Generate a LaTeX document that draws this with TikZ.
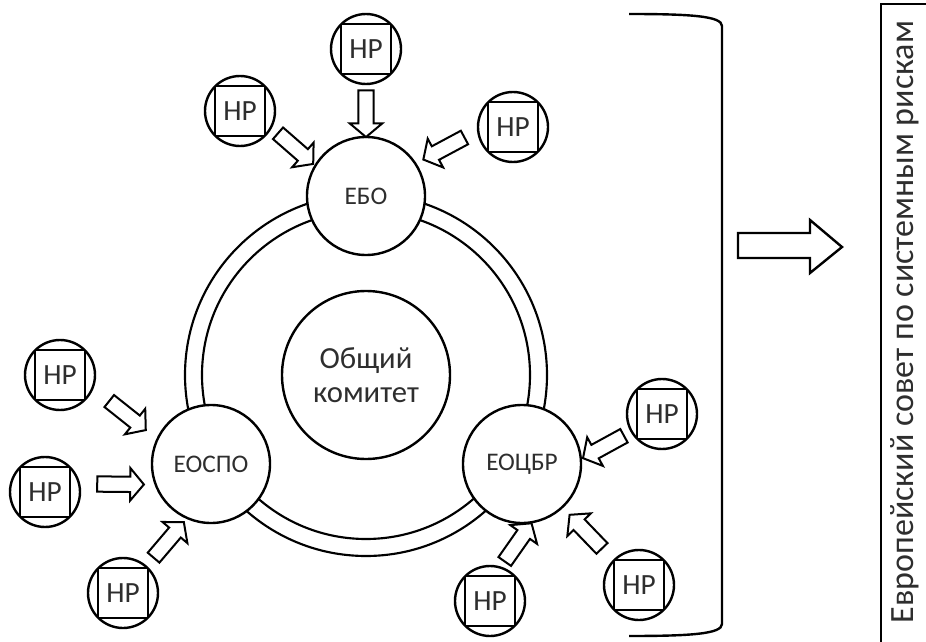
\documentclass[tikz,border=0pt]{standalone}
\usepackage{fontspec}
\setmainfont{Carlito}
\usetikzlibrary{shapes.arrows}
\begin{document}
\begin{tikzpicture}[x=0.75pt,y=-0.75pt,line width=1.8pt,
  every node/.style={text=black!82},
  hrnode/.style={circle,draw,fill=white,minimum size=52.5pt,inner sep=0pt,
    font=\fontsize{22}{26}\selectfont,
    path picture={\draw[line width=1.8pt] ([shift={(-18.75pt,-18.75pt)}]path picture bounding box.center) rectangle ++(37.5pt,37.5pt);}},
  agency/.style={circle,draw,fill=white,minimum size=88.5pt,inner sep=0pt,font=\fontsize{19}{22}\selectfont},
  blk/.style={single arrow,draw,fill=white,minimum height=35pt,minimum width=0pt,
    inner sep=0pt,inner ysep=5pt,single arrow head extend=6.5pt,
    single arrow tip angle=100,line width=1.5pt,sloped,allow upside down,midway},
  ringline/.style={line width=1.6pt}]
\useasboundingbox (0,0) rectangle (926,642);
% ring
\coordinate (c) at (366,375);
\draw[ringline] (c) circle[radius=123pt];
\draw[ringline] (c) circle[radius=135.75pt];
% central committee
\node[circle,draw,fill=white,minimum size=126pt,inner sep=0pt,align=center,
  font=\fontsize{23}{25}\selectfont] (jc) at (c) {Общий\\комитет};
% agencies
\node[agency] (ebo) at (366,196) {ЕБО};
\node[agency] (eospo) at (211,464) {ЕОСПО};
\node[agency] (eocbr) at (522,464) {ЕОЦБР};
% national regulators
\node[hrnode] (hr1) at (366,49) {НР};
\node[hrnode] (hr2) at (240,111) {НР};
\node[hrnode] (hr3) at (513,127) {НР};
\node[hrnode] (hr4) at (60,375) {НР};
\node[hrnode] (hr5) at (45,492) {НР};
\node[hrnode] (hr6) at (123,593) {НР};
\node[hrnode] (hr7) at (662,414) {НР};
\node[hrnode] (hr8) at (490,601) {НР};
\node[hrnode] (hr9) at (639,585) {НР};
% block arrows
\path (hr1.270) -- (ebo.90) node[blk] {};
\path (hr2.-28) -- (ebo.149) node[blk] {};
\path (hr3.186) -- (ebo.33.5) node[blk] {};
\path (hr4.-22) -- (eospo.155) node[blk] {};
\path (hr5.13) -- (eospo.200) node[blk] {};
\path (hr6.49) -- (eospo.246) node[blk] {};
\path (hr7.210) -- (eocbr.5) node[blk] {};
\path (hr8.72) -- (eocbr.279) node[blk] {};
\path (hr9.136) -- (eocbr.313) node[blk] {};
% bracket
\draw (629,14) .. controls (690,14) and (722,16) .. (722,26) -- (722,624)
  .. controls (722,634) and (690,636) .. (629,636);
% big arrow
\draw (738,233) -- (810,233) -- (810,220) -- (842,247) -- (810,273) -- (810,258) -- (738,258) -- cycle;
% ESRB box
\draw (881,650) -- (881,4) -- (935,4) -- (935,650);
\node[rotate=90,font=\fontsize{25.5}{28}\selectfont] (esrb) at (905,322) {Европейский совет по системным рискам};
\end{tikzpicture}
\end{document}
